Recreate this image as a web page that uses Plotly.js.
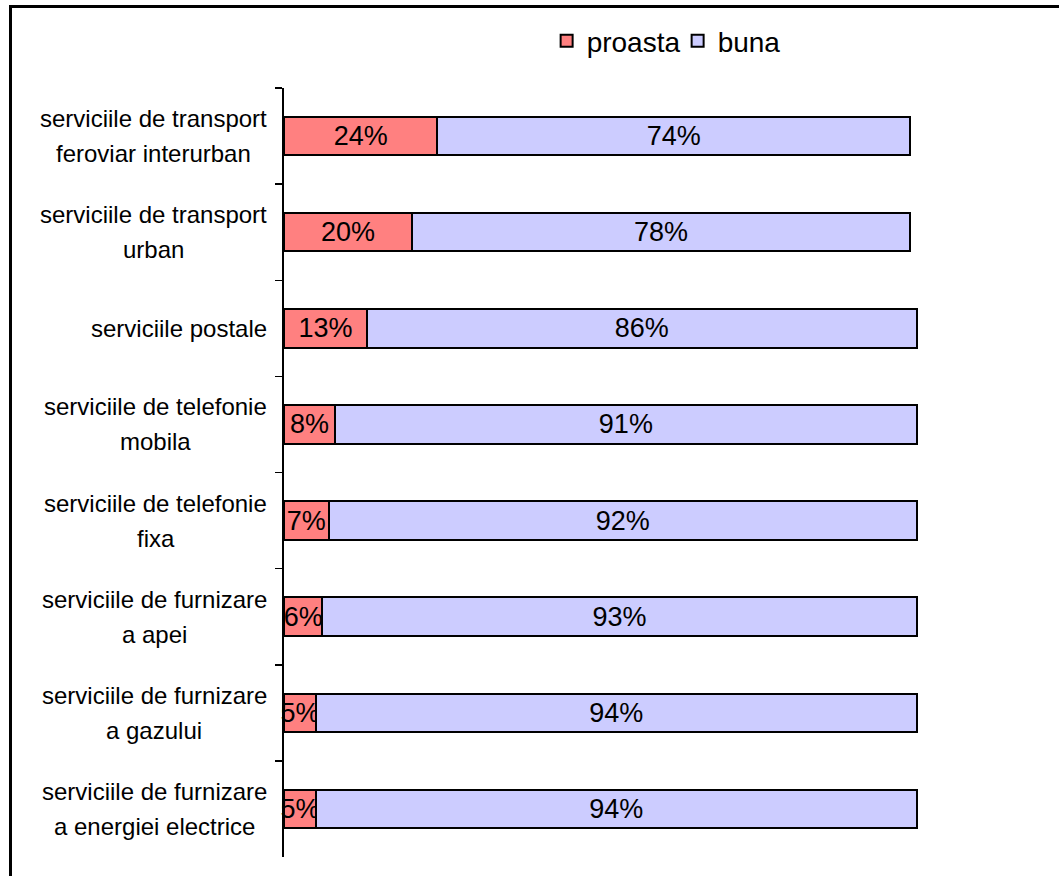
<!DOCTYPE html>
<html>
<head>
<meta charset="utf-8">
<script src="https://cdn.plot.ly/plotly-3.0.1.min.js"></script>
<style>
  html, body { margin: 0; padding: 0; background: #ffffff; }
  #wrap { position: relative; width: 1059px; height: 876px; overflow: hidden; }
  #chart { position: absolute; left: 0; top: 0; width: 1059px; height: 876px; }
  #frame { position: absolute; left: 9px; top: 5px; width: 1100px; height: 900px;
           border-left: 3px solid #000; border-top: 3px solid #000; pointer-events: none; }
</style>
</head>
<body>
<div id="wrap">
  <div id="chart"></div>
  <div id="frame"></div>
</div>
<script>
// Categories (top to bottom)
const categories = [
  "serviciile de transport<br>feroviar interurban",
  "serviciile de transport<br>urban",
  "serviciile postale",
  "serviciile de telefonie<br>mobila",
  "serviciile de telefonie<br>fixa",
  "serviciile de furnizare<br>a apei",
  "serviciile de furnizare<br>a gazului",
  "serviciile de furnizare<br>a energiei electrice"
];
const seriesNames = ["proasta", "buna"];
const proasta = [24, 20, 13, 8, 7, 6, 5, 5];
const buna = [74, 78, 86, 91, 92, 93, 94, 94];

const FONT = "'Liberation Sans', Arial, sans-serif";
const LABEL_SIZE = 24;

const common = {
  type: "bar",
  orientation: "h",
  y: categories,
  texttemplate: "%{x}%",
  textposition: "inside",
  insidetextanchor: "middle",
  textangle: 0,
  constraintext: "none",
  cliponaxis: false,
  insidetextfont: { family: FONT, size: 27, color: "#000000" },
  textfont: { family: FONT, size: 27, color: "#000000" },
  hoverinfo: "skip"
};

const traces = [
  Object.assign({}, common, {
    name: seriesNames[0],
    x: proasta,
    marker: { color: "#FF8080", line: { color: "#000000", width: 2 } }
  }),
  Object.assign({}, common, {
    name: seriesNames[1],
    x: buna,
    marker: { color: "#CCCCFF", line: { color: "#000000", width: 2 } }
  })
];

// measure text to right-align each label block with centred lines
const ctx = document.createElement("canvas").getContext("2d");
ctx.font = LABEL_SIZE + "px 'Liberation Sans', Arial, sans-serif";

const LINE_PITCH = 35;
const GAP = 17; // px between label block and axis
const annotations = [];
categories.forEach(c => {
  const lines = c.split("<br>");
  const n = lines.length;
  const blockW = Math.max(...lines.map(l => ctx.measureText(l).width));
  lines.forEach((ln, i) => {
    annotations.push({
      x: 0, xref: "paper", xanchor: "center", xshift: -(GAP + blockW / 2),
      y: c, yref: "y", yanchor: "middle",
      yshift: ((n - 1) / 2 - i) * LINE_PITCH,
      text: ln, showarrow: false, align: "center",
      font: { family: FONT, size: LABEL_SIZE, color: "#000000" }
    });
  });
});

const layout = {
  width: 1059, height: 876,
  margin: { l: 284, r: 136, t: 88, b: 19, pad: 0 },
  paper_bgcolor: "#ffffff",
  plot_bgcolor: "#ffffff",
  barmode: "stack",
  bargap: 0.6,
  font: { family: FONT, size: 24, color: "#000000" },
  showlegend: true,
  legend: {
    orientation: "h",
    x: 0.411, xanchor: "left",
    y: 1.061, yanchor: "middle",
    font: { family: FONT, size: 28, color: "#000000" },
    itemwidth: 30,
    entrywidth: 86,
    entrywidthmode: "pixels",
    traceorder: "normal",
    bgcolor: "rgba(0,0,0,0)",
    borderwidth: 0
  },
  xaxis: {
    range: [0, 100],
    visible: false,
    fixedrange: true
  },
  yaxis: {
    type: "category",
    autorange: "reversed",
    showline: true, linecolor: "#000000", linewidth: 2,
    ticks: "outside", ticklen: 7, tickwidth: 1.5, tickcolor: "#000000",
    tickson: "boundaries",
    showticklabels: false,
    showgrid: false, zeroline: false,
    fixedrange: true
  },
  annotations: annotations
};

Plotly.newPlot("chart", traces, layout, { staticPlot: true, displayModeBar: false });
</script>
</body>
</html>
